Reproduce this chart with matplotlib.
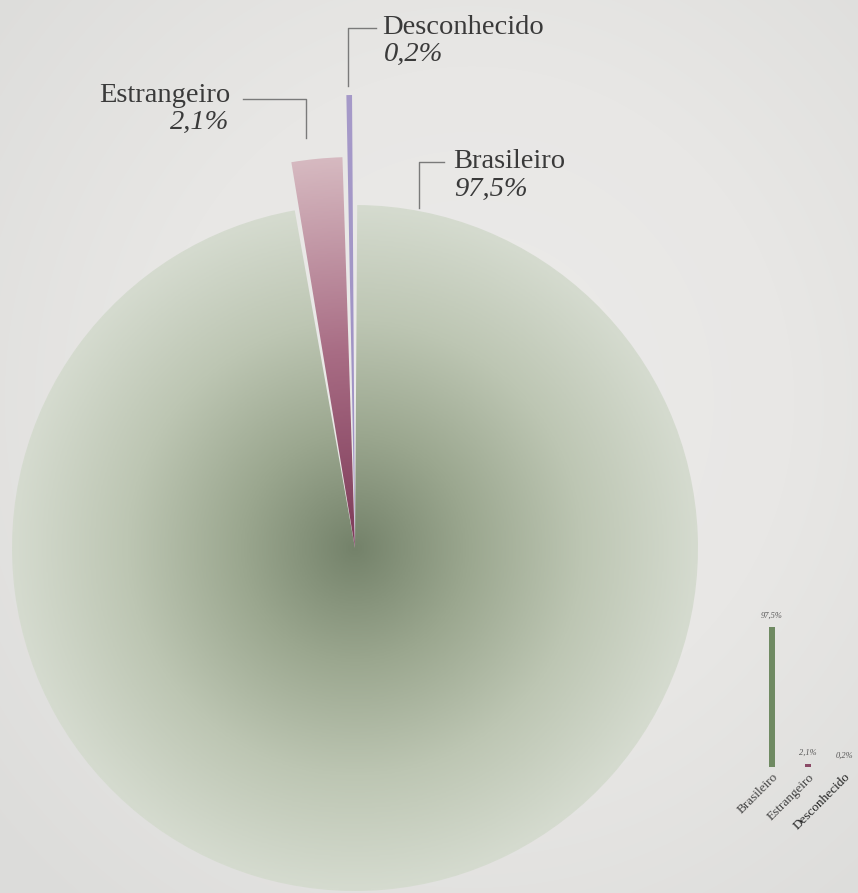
import numpy as np
import matplotlib.pyplot as plt
from matplotlib.patches import Wedge
from matplotlib.colors import LinearSegmentedColormap

# Data
categories = ["Brasileiro", "Estrangeiro", "Desconhecido"]
shares = [97.5, 2.1, 0.2]
share_labels = ["97,5%", "2,1%", "0,2%"]

# Style
W, H = 858, 893
cx, cy = 355, 893 - 548
radii = [343, 391, 453]
pad = 0.75  # degrees of gap between slices
serif = ["Liberation Serif", "DejaVu Serif"]
fs = 20.5
txt_col = "#3a3a3a"
line_col = "#7a7a7a"

fig = plt.figure(figsize=(W / 100, H / 100), dpi=100)
ax = fig.add_axes([0, 0, 1, 1])
ax.set_xlim(0, W)
ax.set_ylim(0, H)
ax.set_aspect("equal")
ax.axis("off")

# background vignette
yy, xx = np.mgrid[0:H, 0:W]
d = np.hypot((xx - W * 0.55) / W, (yy - H * 0.55) / H)
bg_cmap = LinearSegmentedColormap.from_list("bg", ["#ecebea", "#e8e7e5", "#dcdcda"])
ax.imshow(d, cmap=bg_cmap, extent=[0, W, 0, H], origin="lower", zorder=0,
          vmin=0, vmax=0.75)

# wedges, clockwise from 12 o'clock, with a small gap between them
cmaps = [
    LinearSegmentedColormap.from_list("g", ["#74826a", "#9ba78f", "#bdc6b3", "#d5dbcf"]),
    LinearSegmentedColormap.from_list("p", ["#7d3a58", "#a86c84", "#d6b9c0"]),
    LinearSegmentedColormap.from_list("v", ["#9d90c3", "#a69ac9"]),
]
total = sum(shares)
avail = 360.0 - pad * len(shares)
start = 90.0 - pad / 2
for i, v in enumerate(shares):
    span = v / total * avail
    t1, t2 = start - span, start
    start = t1 - pad
    r = radii[i]
    g = np.linspace(-1, 1, 400)
    gx, gy = np.meshgrid(g, g)
    rad = np.clip(np.hypot(gx, gy), 0, 1)
    im = ax.imshow(rad, cmap=cmaps[i], extent=[cx - r, cx + r, cy - r, cy + r],
                   origin="lower", zorder=2 + i, vmin=0, vmax=1)
    w = Wedge((cx, cy), r, t1, t2, facecolor="none", edgecolor="none", zorder=5 + i)
    ax.add_patch(w)
    im.set_clip_path(w)

# leader lines and labels
ax.plot([348, 348, 376], [H - 86, H - 28, H - 28], color=line_col, lw=1, zorder=10)
ax.text(382, H - 28, categories[2], family=serif, fontsize=fs, color=txt_col,
        ha="left", va="center")
ax.text(384, H - 54, share_labels[2], family=serif, fontsize=fs, style="italic",
        color=txt_col, ha="left", va="center")

ax.plot([243, 306, 306], [H - 99, H - 99, H - 138], color=line_col, lw=1, zorder=10)
ax.text(230, H - 95, categories[1], family=serif, fontsize=fs, color=txt_col,
        ha="right", va="center")
ax.text(229, H - 122, share_labels[1], family=serif, fontsize=fs, style="italic",
        color=txt_col, ha="right", va="center")

ax.plot([419, 419, 444], [H - 208, H - 162, H - 162], color=line_col, lw=1, zorder=10)
ax.text(453, H - 161, categories[0], family=serif, fontsize=fs, color=txt_col,
        ha="left", va="center")
ax.text(454, H - 189, share_labels[0], family=serif, fontsize=fs, style="italic",
        color=txt_col, ha="left", va="center")

# small bar chart
bx = fig.add_axes([754 / W, (H - 767) / H, 108 / W, 160 / H])
bx.patch.set_alpha(0)
bar_cols = ["#6f8a62", "#8a4a66", "#9d90c3"]
bx.bar(range(3), shares, width=0.19, color=bar_cols)
bx.set_xlim(-0.5, 2.5)
bx.set_ylim(0, 97.5 * 160 / 140)
for i, v in enumerate(shares):
    bx.text(i, v + 5, share_labels[i], family=serif, fontsize=6, style="italic",
            color="#555555", ha="center", va="bottom")
bx.set_xticks(range(3))
bx.set_xticklabels(categories, rotation=45, ha="right", rotation_mode="anchor",
                   family=serif, fontsize=9.5, color="#444444")
bx.get_xticklabels()[2].set_color("#222222")
bx.tick_params(axis="x", length=0, pad=3)
bx.set_yticks([])
for s in bx.spines.values():
    s.set_visible(False)

fig.savefig("out.png", dpi=100)
plt.close()
